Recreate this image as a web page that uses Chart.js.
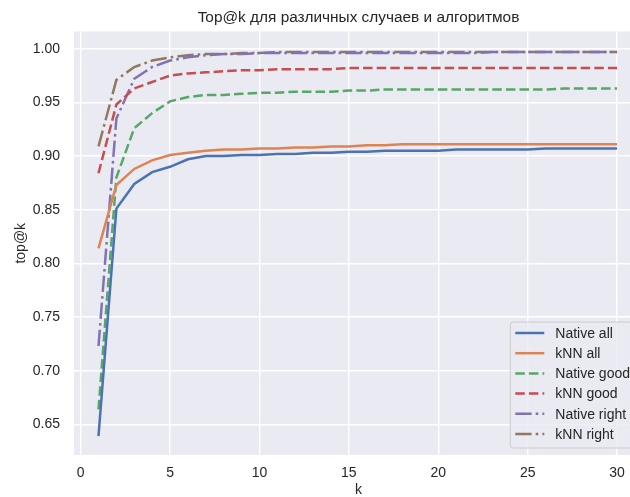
<!DOCTYPE html>
<html>
<head>
<meta charset="utf-8">
<script src="https://cdn.jsdelivr.net/npm/chart.js@4"></script>
<style>
  body { margin: 0; background: #fff; }
  #wrap { width: 630px; height: 497px; overflow: hidden; }
</style>
</head>
<body>
<div id="wrap"><canvas id="topkChart" width="643" height="497"></canvas></div>
<script>
// k = 1..30
var kValues = [1, 2, 3, 4, 5, 6, 7, 8, 9, 10, 11, 12, 13, 14, 15,
               16, 17, 18, 19, 20, 21, 22, 23, 24, 25, 26, 27, 28, 29, 30];

var nativeAll = [0.639, 0.851, 0.874, 0.885, 0.890, 0.897, 0.900, 0.900, 0.901, 0.901,
                 0.902, 0.902, 0.903, 0.903, 0.904, 0.904, 0.905, 0.905, 0.905, 0.905,
                 0.906, 0.906, 0.906, 0.906, 0.906, 0.907, 0.907, 0.907, 0.907, 0.907];
var knnAll = [0.814, 0.873, 0.888, 0.896, 0.901, 0.903, 0.905, 0.906, 0.906, 0.907,
              0.907, 0.908, 0.908, 0.909, 0.909, 0.910, 0.910, 0.911, 0.911, 0.911,
              0.911, 0.911, 0.911, 0.911, 0.911, 0.911, 0.911, 0.911, 0.911, 0.911];
var nativeGood = [0.664, 0.880, 0.926, 0.940, 0.951, 0.955, 0.957, 0.957, 0.958, 0.959,
                  0.959, 0.960, 0.960, 0.960, 0.961, 0.961, 0.962, 0.962, 0.962, 0.962,
                  0.962, 0.962, 0.962, 0.962, 0.962, 0.962, 0.963, 0.963, 0.963, 0.963];
var knnGood = [0.884, 0.948, 0.963, 0.969, 0.975, 0.977, 0.978, 0.979, 0.980, 0.980,
               0.981, 0.981, 0.981, 0.981, 0.982, 0.982, 0.982, 0.982, 0.982, 0.982,
               0.982, 0.982, 0.982, 0.982, 0.982, 0.982, 0.982, 0.982, 0.982, 0.982];
var nativeRight = [0.723, 0.935, 0.972, 0.983, 0.989, 0.992, 0.994, 0.995, 0.995, 0.996,
                   0.996, 0.996, 0.996, 0.996, 0.996, 0.996, 0.996, 0.996, 0.996, 0.996,
                   0.996, 0.996, 0.997, 0.997, 0.997, 0.997, 0.997, 0.997, 0.997, 0.997];
var knnRight = [0.909, 0.971, 0.983, 0.989, 0.992, 0.994, 0.995, 0.995, 0.996, 0.996,
                0.997, 0.997, 0.997, 0.997, 0.997, 0.997, 0.997, 0.997, 0.997, 0.997,
                0.997, 0.997, 0.997, 0.997, 0.997, 0.997, 0.997, 0.997, 0.997, 0.997];

var xTicks = [0, 5, 10, 15, 20, 25, 30];
var yTicks = [0.65, 0.70, 0.75, 0.80, 0.85, 0.90, 0.95, 1.00];

const FONT = '"Liberation Sans", Arial, sans-serif';
const TEXT = '#262626';
const DASH = [9.5, 4.1];
const DASHDOT = [16.3, 4.1, 2.6, 4.1];

function points(values) {
    return kValues.map(function (k, i) { return { x: k, y: values[i] }; });
}

function series(label, values, color, dash) {
    return {
        label: label,
        data: points(values),
        borderColor: color,
        backgroundColor: color,
        borderWidth: 2.5,
        borderDash: dash,
        borderCapStyle: 'butt',
        pointRadius: 0,
        tension: 0,
        fill: false
    };
}

// gray seaborn-like plot background
const plotBackground = {
    id: 'plotBackground',
    beforeDraw(chart) {
        const { ctx, chartArea } = chart;
        ctx.save();
        ctx.fillStyle = '#EAEAF2';
        ctx.fillRect(chartArea.left, chartArea.top,
            chartArea.right - chartArea.left, chartArea.bottom - chartArea.top);
        ctx.restore();
    }
};

// legend in the lower right corner, inside the axes
const insideLegend = {
    id: 'insideLegend',
    afterDraw(chart) {
        const { ctx, chartArea } = chart;
        const sets = chart.data.datasets;
        ctx.save();
        ctx.font = '14px ' + FONT;
        const textW = Math.max.apply(null, sets.map(function (d) { return ctx.measureText(d.label).width; }));
        const rowH = 20.2;
        const w = 5 + 29 + 11 + textW + 6;
        const h = 126;
        const right = chartArea.right - 7;
        const bottom = chartArea.bottom - 7;
        const left = right - w;
        const top = bottom - h;

        ctx.beginPath();
        ctx.roundRect(left, top, w, h, 3);
        ctx.fillStyle = 'rgba(234,234,242,0.8)';
        ctx.fill();
        ctx.lineWidth = 1;
        ctx.strokeStyle = '#cccccc';
        ctx.stroke();

        sets.forEach(function (d, i) {
            const y = top + 11 + i * rowH;
            ctx.beginPath();
            ctx.setLineDash(d.borderDash || []);
            ctx.lineCap = 'butt';
            ctx.lineWidth = d.borderWidth;
            ctx.strokeStyle = d.borderColor;
            ctx.moveTo(left + 5, y);
            ctx.lineTo(left + 34, y);
            ctx.stroke();
            ctx.setLineDash([]);
            ctx.fillStyle = TEXT;
            ctx.textAlign = 'left';
            ctx.textBaseline = 'middle';
            ctx.fillText(d.label, left + 45, y + 1);
        });
        ctx.restore();
    }
};

var ctx = document.getElementById('topkChart').getContext('2d');
var topkChart = new Chart(ctx, {
    type: 'line',
    data: {
        datasets: [
            series('Native all', nativeAll, '#4C72B0', []),
            series('kNN all', knnAll, '#DD8452', []),
            series('Native good', nativeGood, '#55A868', DASH),
            series('kNN good', knnGood, '#C44E52', DASH),
            series('Native right', nativeRight, '#8172B3', DASHDOT),
            series('kNN right', knnRight, '#937860', DASHDOT)
        ]
    },
    options: {
        responsive: false,
        animation: false,
        layout: { padding: 0 },
        scales: {
            x: {
                type: 'linear',
                min: -0.37,
                max: 31.45,
                afterBuildTicks: function (axis) {
                    axis.ticks = xTicks.map(function (v) { return { value: v }; });
                },
                afterFit: function (axis) { axis.height = 42; },
                grid: { color: '#ffffff', lineWidth: 1.4, drawTicks: false },
                border: { display: false },
                ticks: {
                    padding: 10,
                    color: TEXT,
                    font: { family: FONT, size: 14 }
                },
                title: {
                    display: true,
                    text: 'k',
                    color: TEXT,
                    padding: 0,
                    font: { family: FONT, size: 14, lineHeight: 1 }
                }
            },
            y: {
                type: 'linear',
                min: 0.6214,
                max: 1.0161,
                afterBuildTicks: function (axis) {
                    axis.ticks = yTicks.map(function (v) { return { value: v }; });
                },
                afterFit: function (axis) { axis.width = 74; },
                grid: { color: '#ffffff', lineWidth: 1.4, drawTicks: false },
                border: { display: false },
                ticks: {
                    padding: 14,
                    color: TEXT,
                    font: { family: FONT, size: 14 },
                    callback: function (v) { return v.toFixed(2); }
                },
                title: {
                    display: true,
                    text: 'top@k',
                    color: TEXT,
                    padding: { top: 13, bottom: 0 },
                    font: { family: FONT, size: 14 }
                }
            }
        },
        plugins: {
            legend: { display: false },
            tooltip: { enabled: false },
            title: {
                display: true,
                fullSize: false,
                text: 'Top@k для различных случаев и алгоритмов',
                color: TEXT,
                padding: { top: 9, bottom: 4 },
                font: { family: FONT, size: 15.4, weight: 'normal' }
            }
        }
    },
    plugins: [plotBackground, insideLegend]
});
</script>
</body>
</html>
